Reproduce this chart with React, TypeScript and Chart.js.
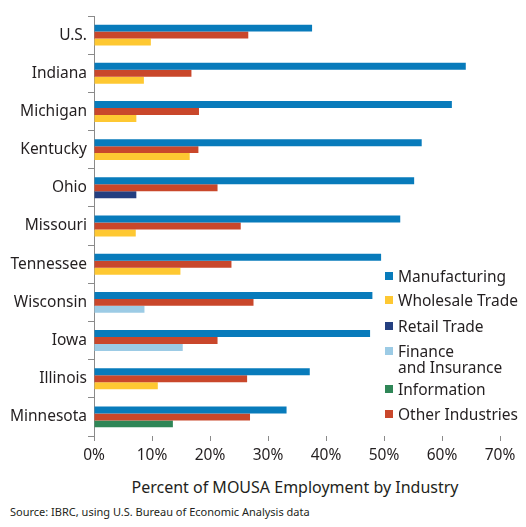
import React, { useEffect, useRef } from 'react';
import { Chart, registerables } from 'chart.js';

Chart.register(...registerables);

const categories = ['U.S.', 'Indiana', 'Michigan', 'Kentucky', 'Ohio', 'Missouri', 'Tennessee', 'Wisconsin', 'Iowa', 'Illinois', 'Minnesota'];
const manufacturing = [37.6, 64.1, 61.7, 56.5, 55.2, 52.8, 49.5, 48.0, 47.6, 37.2, 33.2];
const otherIndustries = [26.6, 16.8, 18.1, 18.0, 21.3, 25.3, 23.7, 27.5, 21.3, 26.4, 26.9];
const wholesaleTrade = [9.8, 8.6, 7.3, 16.5, null, 7.2, 14.9, null, null, 11.0, null];
const retailTrade = [null, null, null, null, 7.3, null, null, null, null, null, null];
const financeInsurance = [null, null, null, null, null, null, null, 8.7, 15.3, null, null];
const information = [null, null, null, null, null, null, null, null, null, null, 13.6];
const xTicks = [0, 10, 20, 30, 40, 50, 60, 70];

const COLORS = {
  manufacturing: '#087bbb',
  wholesale: '#fec832',
  retail: '#243f80',
  finance: '#9ccbe5',
  information: '#2f8657',
  other: '#c9472b',
};

const legendItems = [
  { label: ['Manufacturing'], color: COLORS.manufacturing, y: 276 },
  { label: ['Wholesale Trade'], color: COLORS.wholesale, y: 300 },
  { label: ['Retail Trade'], color: COLORS.retail, y: 326 },
  { label: ['Finance', 'and Insurance'], color: COLORS.finance, y: 351 },
  { label: ['Information'], color: COLORS.information, y: 389 },
  { label: ['Other Industries'], color: COLORS.other, y: 414 },
];

const FONT = '"Noto Sans", sans-serif';
const TEXT = '#231f20';
const AXIS = '#8a8a8a';

export default function App() {
  const ref = useRef<HTMLCanvasElement | null>(null);

  useEffect(() => {
    if (!ref.current) return;
    const chart = new Chart(ref.current, {
      type: 'bar',
      data: {
        labels: categories,
        datasets: [
          { label: 'Manufacturing', data: manufacturing, backgroundColor: COLORS.manufacturing, stack: 'm' },
          { label: 'Other Industries', data: otherIndustries, backgroundColor: COLORS.other, stack: 'o' },
          { label: 'Wholesale Trade', data: wholesaleTrade, backgroundColor: COLORS.wholesale, stack: 'x' },
          { label: 'Retail Trade', data: retailTrade, backgroundColor: COLORS.retail, stack: 'x' },
          { label: 'Finance and Insurance', data: financeInsurance, backgroundColor: COLORS.finance, stack: 'x' },
          { label: 'Information', data: information, backgroundColor: COLORS.information, stack: 'x' },
        ] as any,
      },
      options: {
        indexAxis: 'y',
        responsive: false,
        maintainAspectRatio: false,
        animation: false,
        layout: { padding: { top: 16, right: 26, left: 0, bottom: 0 } },
        plugins: { legend: { display: false }, tooltip: { enabled: false } },
        datasets: { bar: { categoryPercentage: 0.548, barPercentage: 1 } },
        scales: {
          x: {
            min: 0,
            max: 70,
            afterBuildTicks: (s: any) => { s.ticks = xTicks.map((v) => ({ value: v })); },
            afterFit: (s: any) => { s.height = 34; },
            ticks: {
              callback: (v: any) => v + '%',
              font: { family: FONT, size: 15.5 },
              color: TEXT,
              padding: 5,
              maxRotation: 0,
            },
            grid: { drawOnChartArea: false, drawTicks: true, tickLength: 5, color: AXIS },
            border: { display: false },
          },
          y: {
            afterFit: (s: any) => { s.width = 94; },
            ticks: { font: { family: FONT, size: 15.5 }, color: TEXT, padding: 1 },
            grid: { offset: true, drawOnChartArea: false, tickLength: 6, color: AXIS },
            border: { display: true, color: AXIS },
          },
        },
      } as any,
    });
    return () => chart.destroy();
  }, []);

  return (
    <div style={{ position: 'fixed', left: 0, top: 0, width: 526, height: 527, background: '#fff', fontFamily: FONT, color: TEXT }}>
      <canvas ref={ref} width={526} height={470} style={{ position: 'absolute', left: 0, top: 0, width: 526, height: 470 }} />
      {legendItems.map((it) => (
        <div key={it.label.join(' ')} style={{ position: 'absolute', left: 385, top: it.y - 10, height: 20 }}>
          <div style={{ position: 'absolute', left: 0, top: 6, width: 8, height: 8, background: it.color }} />
          <div style={{ position: 'absolute', left: 13, top: 0, fontSize: 15.5, lineHeight: '20px', whiteSpace: 'nowrap' }}>
            {it.label.map((l, i) => (<div key={i} style={{ height: i === 0 ? 16 : 20 }}>{l}</div>))}
          </div>
        </div>
      ))}
      <div style={{ position: 'absolute', left: 95, width: 400, top: 477, textAlign: 'center', fontSize: 16, lineHeight: '20px', whiteSpace: 'nowrap' }}>
        Percent of MOUSA Employment by Industry
      </div>
      <div style={{ position: 'absolute', left: 10, top: 505, fontSize: 11, lineHeight: '14px', whiteSpace: 'nowrap' }}>
        Source: IBRC, using U.S. Bureau of Economic Analysis data
      </div>
    </div>
  );
}
